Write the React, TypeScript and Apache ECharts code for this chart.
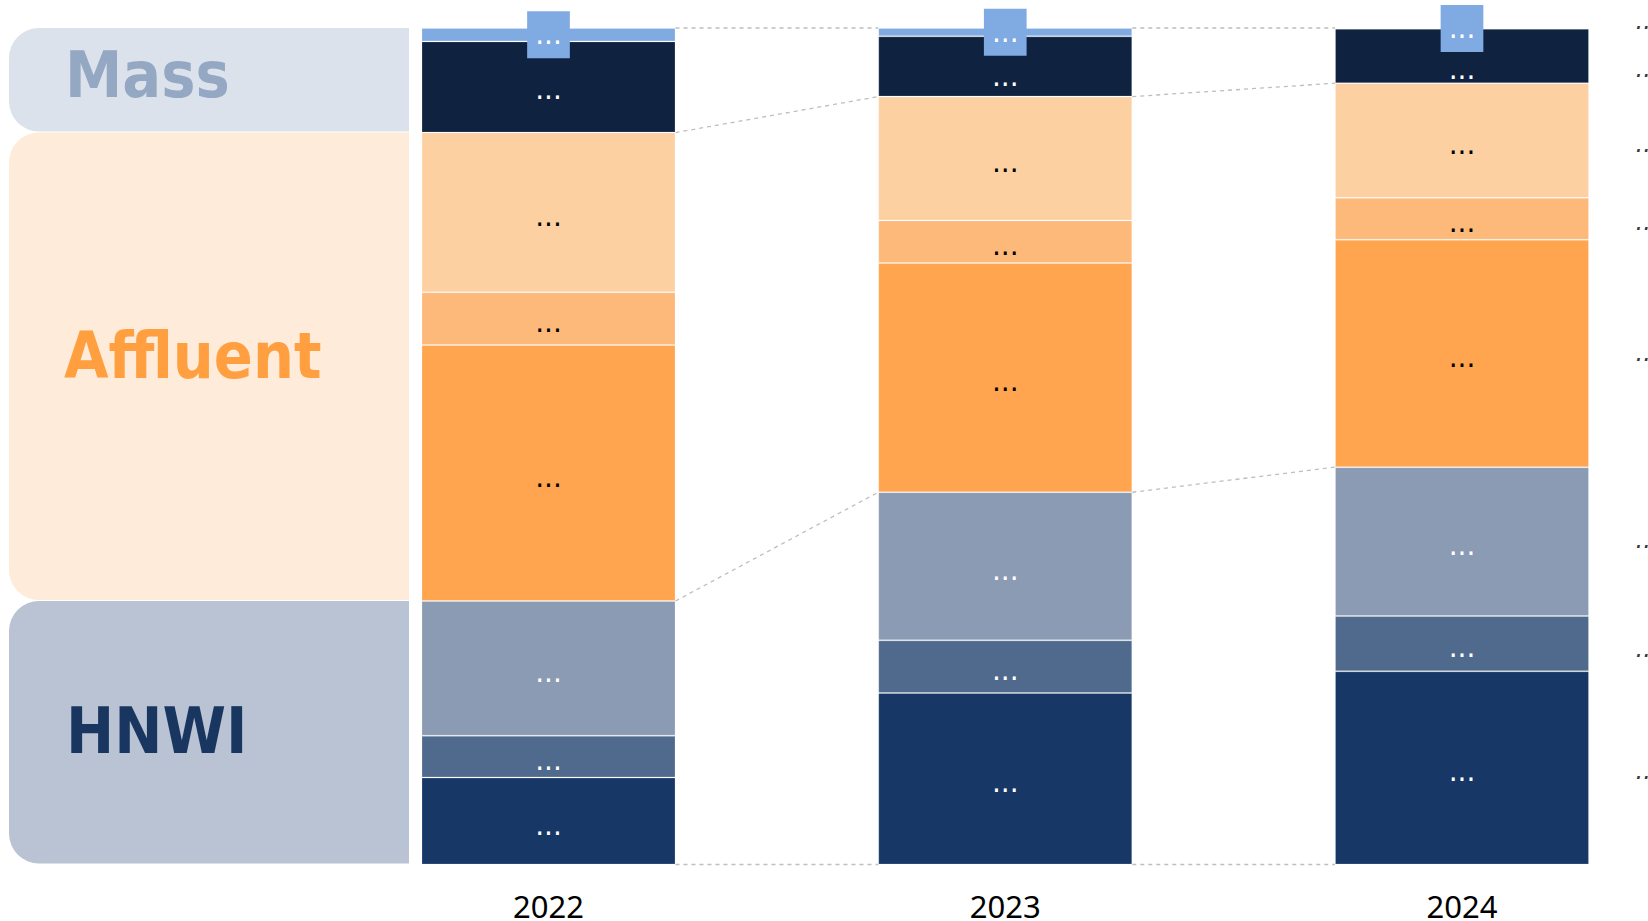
import React, { useEffect, useRef } from 'react';
import * as echarts from 'echarts';

// ---------- data ----------
const years = ['2022', '2023', '2024'];

// stacked from bottom to top (percent of total)
const hnwiTier1 = [10.4, 20.5, 23.1];
const hnwiTier2 = [5.0, 6.3, 6.6];
const hnwiTier3 = [16.1, 17.7, 17.8];
const affluentTier1 = [30.6, 27.4, 27.2];
const affluentTier2 = [6.3, 5.1, 5.0];
const affluentTier3 = [19.1, 14.8, 13.7];
const massTier1 = [10.9, 7.2, 6.5];
const massTier2 = [1.6, 1.0, 0.1];

const segmentNames = [
  'HNWI tier 1',
  'HNWI tier 2',
  'HNWI tier 3',
  'Affluent tier 1',
  'Affluent tier 2',
  'Affluent tier 3',
  'Mass tier 1',
  'Mass tier 2',
];
const segmentValues = [hnwiTier1, hnwiTier2, hnwiTier3, affluentTier1, affluentTier2, affluentTier3, massTier1, massTier2];
const segmentLabels = ['...', '...', '...', '...', '...', '...', '...', '...'];
const sideLabels = ['...', '...', '...', '...', '...', '...', '...', '...'];
const groupNames = ['HNWI', 'Affluent', 'Mass'];
const groupSizes = [3, 3, 2];

// ---------- styles ----------
const segmentColors = ['#173766', '#506A8E', '#8B9BB3', '#FFA54F', '#FDB97A', '#FDD0A2', '#0F2340', '#80AAE2'];
const labelColors = ['#ffffff', '#ffffff', '#ffffff', '#000000', '#000000', '#000000', '#ffffff', '#ffffff'];
const bandColors = ['#B9C3D3', '#FEEBD9', '#DCE2EC'];
const bandTextColors = ['#18365F', '#FF9F40', '#94A7C3'];
const bandTextDy = [-1.5, -11, -5];
const bandTextX = [67, 65, 66];
const BAR_W = 254;
const GRID = { left: 548.5, top: 28, width: 913.5, height: 837 };
const LABEL_FONT = 'DejaVu Sans';
const LABEL_DY = 4;
// manual de-overlap shift for the Mass tier-1 labels (pushed below the boxed label)
const massTier1LabelShift = [3, 10.5, 13.5];
// vertical nudges of the clipped side labels (bottom to top)
const sideLabelShift = [3, 5, -2, -0.5, 3.5, 3, 12.5, -7];

export default function App() {
  const ref = useRef<HTMLDivElement>(null);

  useEffect(() => {
    if (!ref.current) return;
    const chart = echarts.init(ref.current, null, { renderer: 'svg' });

    const barSeries = segmentValues.map((vals, k) => {
      const isTop = k === segmentValues.length - 1;
      return {
        name: segmentNames[k],
        type: 'bar',
        stack: 'total',
        barWidth: BAR_W,
        clip: false,
        data: vals.map((v, i) => {
          const item: any = { value: v };
          if (k === 6) item.label = { offset: [0, massTier1LabelShift[i]] };
          return item;
        }),
        itemStyle: {
          color: segmentColors[k],
          borderColor: 'rgba(255,255,255,0.2)',
          borderWidth: 1,
        },
        label: {
          show: true,
          position: 'inside',
          formatter: () => segmentLabels[k],
          color: labelColors[k],
          fontSize: 28,
          fontFamily: LABEL_FONT,
          lineHeight: isTop ? 30 : 31,
          offset: [0, isTop ? 0 : LABEL_DY],
          ...(isTop ? { backgroundColor: segmentColors[k], padding: [17, 8, 0, 8] } : {}),
        },
        emphasis: { disabled: true },
        z: 3,
      };
    });

    // cumulative bases per year
    const cumBelow = (k: number, i: number) => {
      let s = 0;
      for (let j = 0; j < k; j++) s += segmentValues[j][i];
      return s;
    };
    const hnwiTop = years.map((_, i) => cumBelow(groupSizes[0], i));
    const affluentTop = years.map((_, i) => cumBelow(groupSizes[0] + groupSizes[1], i));
    const totals = years.map((_, i) => cumBelow(segmentValues.length, i));
    const levels = [totals, affluentTop, hnwiTop, years.map(() => 0)];
    const connectorData: number[][] = [];
    levels.forEach((lv) => {
      for (let i = 0; i < years.length - 1; i++) connectorData.push([i, lv[i], lv[i + 1]]);
    });

    const last = years.length - 1;
    const sideData = segmentValues.map((vals, k) => ({
      value: [last, cumBelow(k, last) + vals[last] / 2],
      label: { offset: [0, sideLabelShift[k]] },
    }));

    const option: any = {
      animation: false,
      backgroundColor: '#ffffff',
      grid: { ...GRID, containLabel: false },
      xAxis: {
        type: 'category',
        data: years,
        boundaryGap: false,
        axisLine: { show: false },
        axisTick: { show: false },
        splitLine: { show: false },
        axisLabel: {
          fontSize: 31,
          color: '#000000',
          fontFamily: 'Noto Sans',
          margin: 41,
          verticalAlign: 'middle',
          lineHeight: 28,
        },
      },
      yAxis: { type: 'value', min: 0, max: 100, show: false },
      series: [
        ...barSeries,
        {
          type: 'custom',
          name: 'connectors',
          silent: true,
          clip: false,
          z: 1,
          data: connectorData,
          renderItem: (params: any, api: any) => {
            const i = api.value(0);
            const p1 = api.coord([i, api.value(1)]);
            const p2 = api.coord([i + 1, api.value(2)]);
            return {
              type: 'line',
              shape: { x1: p1[0] + BAR_W / 2, y1: p1[1], x2: p2[0] - BAR_W / 2, y2: p2[1] },
              style: { stroke: '#BEBEBE', lineWidth: 1.3, lineDash: [4, 4] },
            };
          },
        },
        {
          type: 'scatter',
          name: 'side labels',
          silent: true,
          clip: false,
          symbolSize: 1,
          itemStyle: { color: 'transparent' },
          data: sideData,
          label: {
            show: true,
            position: 'right',
            distance: 173,
            formatter: (p: any) => sideLabels[p.dataIndex],
            color: '#000000',
            fontSize: 24,
            fontStyle: 'italic',
            fontFamily: LABEL_FONT,
          },
        },
      ],
    };
    chart.setOption(option);

    // left group bands, aligned with the first year's group boundaries
    const py = (v: number) => chart.convertToPixel({ gridIndex: 0 }, [0, v])[1];
    const bounds = [0, hnwiTop[0], affluentTop[0], totals[0]];
    const graphics: any[] = [];
    for (let g = 0; g < 3; g++) {
      const yTop = py(bounds[g + 1]);
      const yBot = py(bounds[g]);
      graphics.push({
        type: 'rect',
        silent: true,
        z: 0,
        shape: { x: 9, y: yTop, width: 400, height: yBot - yTop - 1, r: [30, 0, 0, 30] },
        style: { fill: bandColors[g] },
      });
      graphics.push({
        type: 'text',
        silent: true,
        z: 1,
        x: bandTextX[g] - 1,
        y: (yTop + yBot) / 2 + bandTextDy[g],
        style: {
          text: groupNames[g],
          fill: bandTextColors[g],
          fontSize: 64,
          fontWeight: 'bold',
          fontFamily: '"DejaVu Sans Condensed", "DejaVu Sans", sans-serif',
          verticalAlign: 'middle',
          align: 'left',
        },
      });
    }
    chart.setOption({ graphic: graphics });

    return () => chart.dispose();
  }, []);

  return (
    <div
      ref={ref}
      style={{ position: 'fixed', left: 0, top: 0, width: 1648, height: 921, background: '#ffffff' }}
    />
  );
}
